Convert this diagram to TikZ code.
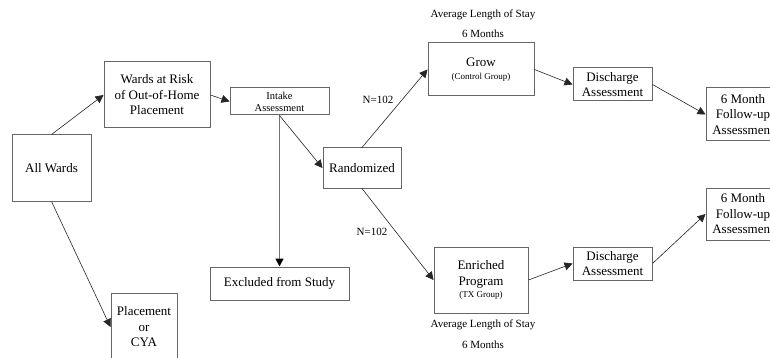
\documentclass[tikz,border=0pt]{standalone}
\usepackage{fontspec}
\setmainfont{Liberation Serif}
\usetikzlibrary{arrows.meta}
\newcommand{\subtxt}{\fontsize{9}{10}\selectfont}
\begin{document}
\begin{tikzpicture}[x=1pt,y=-1pt,
  box/.style={draw=black!60,line width=1pt,fill=white,inner sep=0pt,align=center,
    font=\fontsize{13}{15.5}\selectfont},
  smallbox/.style={box,font=\fontsize{10.5}{12}\selectfont},
  arr/.style={draw=black!85,line width=0.6pt,-{Triangle[length=8pt,width=8pt]}},
  grayarr/.style={draw=black!55,line width=1.6pt,-{Triangle[length=8pt,width=8pt,fill=black,color=black]}},
  lbl/.style={inner sep=0pt,font=\fontsize{11}{13}\selectfont}]
\clip (0,0) rectangle (770,358);
\fill[white] (0,0) rectangle (770,358);

\node[box,minimum width=79pt,minimum height=66pt] (allw) at (51.5,168) {All Wards};
\node[box,minimum width=106pt,minimum height=66pt] (risk) at (157,95) {Wards at Risk\\of Out-of-Home\\Placement};
\node[smallbox,minimum width=99pt,minimum height=27pt] (intake) at (279.5,101.5) {Intake\\Assessment};
\node[box,minimum width=139pt,minimum height=33pt] (excl) at (279.5,283.5) {Excluded from Study};
\node[box,minimum width=66pt,minimum height=68pt] (place) at (144,327) {Placement\\or\\CYA};
\node[box,minimum width=78pt,minimum height=40pt] (rand) at (362,168) {Randomized};
\node[box,minimum width=106pt,minimum height=53pt] (grow) at (481,69.5) {Grow\\[-3pt]{\subtxt(Control Group)}};
\node[box,minimum width=94pt,minimum height=66pt] (enr) at (481,280) {Enriched\\Program\\[-3pt]{\subtxt(TX Group)}};
\node[box,minimum width=79pt,minimum height=33pt] (dis1) at (612.5,84.5) {Discharge\\Assessment};
\node[box,minimum width=79pt,minimum height=33pt] (dis2) at (612.5,263.5) {Discharge\\Assessment};
\node[box,minimum width=74pt,minimum height=53pt] (fu1) at (743,114.5) {6 Month\\Follow-up\\Assessment};
\node[box,minimum width=74pt,minimum height=52pt] (fu2) at (743,214) {6 Month\\Follow-up\\Assessment};

\node[lbl] (avg1) at (483,15) {Average Length of Stay};
\node[lbl] (mon1) at (483,34) {6 Months};
\node[lbl] (avg2) at (483,325) {Average Length of Stay};
\node[lbl] (mon2) at (483,345) {6 Months};
\node[lbl] (n1) at (378,100) {N=102};
\node[lbl] (n2) at (372,232) {N=102};

\draw[arr] (allw.north) -- (risk.west);
\draw[arr] (allw.south) -- (place.west);
\draw[arr] (risk.east) -- (intake.west);
\draw[grayarr] (intake.south) -- (excl.north);
\draw[arr] (intake.south) -- (rand.west);
\draw[arr] (rand.north) -- (grow.west);
\draw[arr] (rand.south) -- (enr.west);
\draw[arr] (grow.east) -- (dis1.west);
\draw[arr] (enr.east) -- (dis2.west);
\draw[arr] (dis1.east) -- (fu1.west);
\draw[arr] (dis2.east) -- (fu2.west);
\end{tikzpicture}
\end{document}
